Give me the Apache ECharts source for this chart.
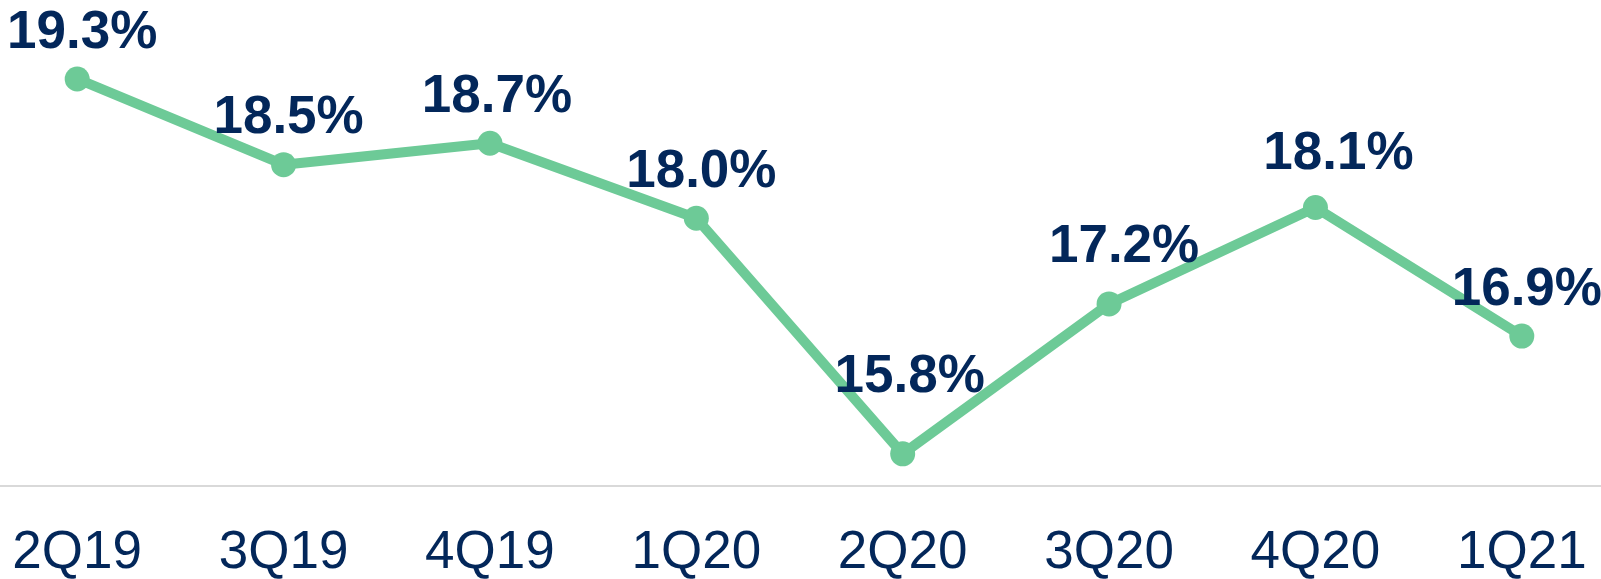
<!DOCTYPE html>
<html>
<head>
<meta charset="utf-8">
<script src="https://cdn.jsdelivr.net/npm/echarts@6/dist/echarts.min.js"></script>
<style>
  html, body { margin: 0; padding: 0; background: #fff; }
  #main { width: 1601px; height: 579px; }
</style>
</head>
<body>
<div id="main"></div>
<script>
"use strict"
// quarters and the ratio (%) per quarter
var quarters = ['2Q19', '3Q19', '4Q19', '1Q20', '2Q20', '3Q20', '4Q20', '1Q21'];
var ratios = [19.3, 18.5, 18.7, 18.0, 15.8, 17.2, 18.1, 16.9];

// label nudges so they sit like in the slide (style only)
var labelNudge = [[5, 0], [5, 0], [7, 0], [5, 0], [7, -30], [15, -11], [23, -7], [5, 0]];

var navy = '#03275a';
var green = '#6dca97';

var seriesData = [];
for (var i = 0; i < ratios.length; i++) {
    seriesData.push({
        value: ratios[i],
        label: { offset: labelNudge[i] }
    });
}

var option = {
    backgroundColor: '#fff',
    animation: false,
    grid: {
        left: -26,
        right: -24,
        top: 4,
        bottom: 93,
        outerBoundsMode: 'none',
        containLabel: false
    },
    xAxis: {
        type: 'category',
        data: quarters,
        boundaryGap: true,
        axisLine: { show: true, lineStyle: { color: '#d9d9d9', width: 2 } },
        axisTick: { show: false },
        axisLabel: {
            margin: 41,
            color: navy,
            fontSize: 53,
            fontFamily: 'Liberation Sans, Arial, sans-serif'
        }
    },
    yAxis: {
        type: 'value',
        min: 15.5,
        max: 20,
        show: false,
        splitLine: { show: false }
    },
    series: [{
        type: 'line',
        data: seriesData,
        symbol: 'circle',
        symbolSize: 25,
        lineStyle: { color: green, width: 10 },
        itemStyle: { color: green },
        label: {
            show: true,
            position: 'top',
            distance: 7,
            formatter: function (p) { return p.value.toFixed(1) + '%'; },
            color: navy,
            fontSize: 53,
            fontWeight: 'bold',
            fontFamily: 'Liberation Sans, Arial, sans-serif'
        }
    }]
};

var chart = echarts.init(document.getElementById('main'));
chart.setOption(option);
</script>
</body>
</html>
